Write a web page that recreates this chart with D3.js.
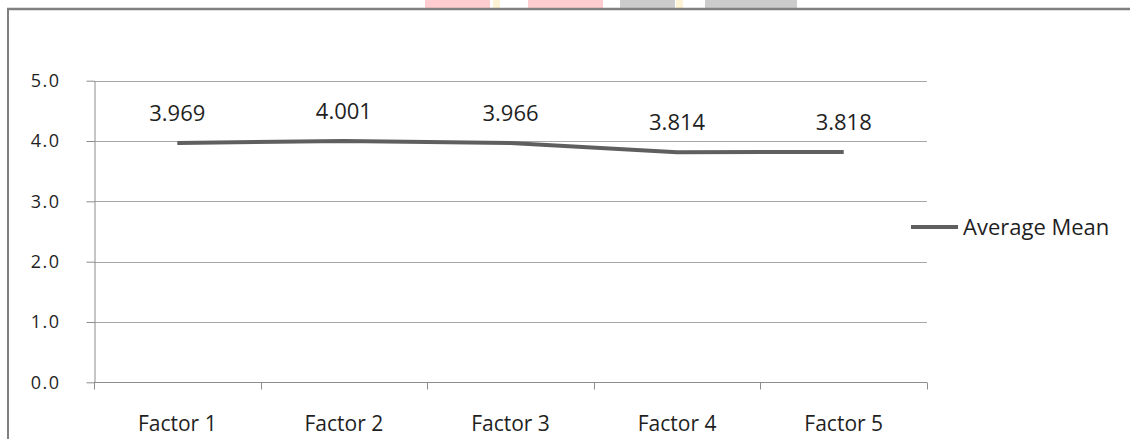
<!DOCTYPE html>
<html>
<head>
<meta charset="utf-8">
<script src="https://cdn.jsdelivr.net/npm/d3@7/dist/d3.min.js"></script>
<style>
  body { margin: 0; background: #fff; }
  svg text { font-family: "Open Sans", "DejaVu Sans", sans-serif; fill: #1f1f1f; }
</style>
</head>
<body>
<svg id="chart" width="1130" height="439"></svg>
<script>
// data
var categories = ['Factor 1', 'Factor 2', 'Factor 3', 'Factor 4', 'Factor 5'];
var avgMean = [3.969, 4.001, 3.966, 3.814, 3.818];
var yTicks = [0, 1, 2, 3, 4, 5];
var seriesName = 'Average Mean';

var svg = d3.select('#chart');

// watermark scraps peeking above the frame
var marks = [
  {x: 425, w: 65, c: '#ffcccf'}, {x: 493, w: 7, c: '#fff3d6'},
  {x: 528, w: 75, c: '#ffcccf'}, {x: 620, w: 55, c: '#cccccc'},
  {x: 676, w: 7, c: '#fff3d6'}, {x: 705, w: 92, c: '#cccccc'}
];
svg.selectAll('rect.wm').data(marks).enter().append('rect')
  .attr('class', 'wm')
  .attr('x', function(d){ return d.x; }).attr('y', 0)
  .attr('width', function(d){ return d.w; }).attr('height', 9)
  .attr('fill', function(d){ return d.c; });

// outer frame (top + left only visible)
svg.append('line').attr('x1', 7).attr('x2', 1130).attr('y1', 9).attr('y2', 9)
  .attr('stroke', '#808080').attr('stroke-width', 2.5);
svg.append('line').attr('x1', 8).attr('x2', 8).attr('y1', 8).attr('y2', 439)
  .attr('stroke', '#808080').attr('stroke-width', 2);

var x = d3.scaleBand().domain(categories).range([94, 927]);
var y = d3.scaleLinear().domain([0, 5]).range([382.3, 80.7]);

// gridlines
svg.selectAll('line.grid').data(yTicks.slice(1)).enter().append('line')
  .attr('class', 'grid')
  .attr('x1', 94).attr('x2', 927)
  .attr('y1', function(d){ return Math.round(y(d)) + 0.5; })
  .attr('y2', function(d){ return Math.round(y(d)) + 0.5; })
  .attr('stroke', '#a6a6a6').attr('stroke-width', 1);

// y axis
var yAxis = svg.append('g').attr('transform', 'translate(94.5,0)')
  .call(d3.axisLeft(y).tickValues(yTicks).tickFormat(d3.format('.1f')).tickSizeInner(8).tickSizeOuter(0).tickPadding(26));
yAxis.selectAll('path, line').attr('stroke', '#8c8c8c');
yAxis.selectAll('text').attr('font-size', 18).attr('letter-spacing', 1.5).attr('fill', '#1f1f1f')
  .attr('font-family', '"Open Sans", sans-serif');

// x axis
var base = Math.round(y(0)) + 0.5;
svg.append('line').attr('x1', 94).attr('x2', 927).attr('y1', base).attr('y2', base)
  .attr('stroke', '#8c8c8c');
var bounds = categories.map(function(d){ return x(d); }).concat([x.range()[1]]);
svg.selectAll('line.xtick').data(bounds).enter().append('line')
  .attr('class', 'xtick')
  .attr('x1', function(d){ return Math.round(d) + 0.5; })
  .attr('x2', function(d){ return Math.round(d) + 0.5; })
  .attr('y1', base).attr('y2', base + 7)
  .attr('stroke', '#8c8c8c');
svg.selectAll('text.xlab').data(categories).enter().append('text')
  .attr('class', 'xlab')
  .attr('x', function(d){ return x(d) + x.bandwidth() / 2; })
  .attr('y', 431)
  .attr('text-anchor', 'middle')
  .attr('font-size', 21)
  .text(function(d){ return d; });

// the line
var pts = categories.map(function(c, i){ return {c: c, v: avgMean[i]}; });
var line = d3.line()
  .x(function(d){ return x(d.c) + x.bandwidth() / 2; })
  .y(function(d){ return y(d.v); });
svg.append('path').datum(pts)
  .attr('d', line)
  .attr('fill', 'none')
  .attr('stroke', '#5f5f5f')
  .attr('stroke-width', 4)
  .attr('stroke-linejoin', 'round');

// value labels
svg.selectAll('text.val').data(pts).enter().append('text')
  .attr('class', 'val')
  .attr('x', function(d){ return x(d.c) + x.bandwidth() / 2; })
  .attr('y', function(d){ return y(d.v) - 22; })
  .attr('text-anchor', 'middle')
  .attr('font-size', 22)
  .text(function(d){ return d3.format('.3f')(d.v); });

// legend
svg.append('line').attr('x1', 911).attr('x2', 958).attr('y1', 227).attr('y2', 227)
  .attr('stroke', '#5f5f5f').attr('stroke-width', 4);
svg.append('text').attr('x', 963).attr('y', 235).attr('font-size', 22).text(seriesName);
</script>
</body>
</html>
